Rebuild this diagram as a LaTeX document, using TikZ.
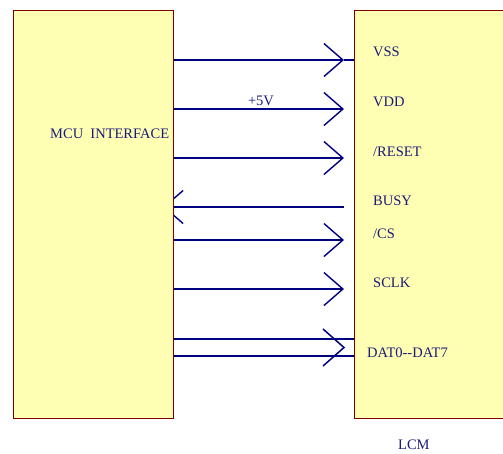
\documentclass[tikz,border=0pt]{standalone}
\usepackage{fontspec}
\setmainfont{Liberation Serif}
\usetikzlibrary{arrows.meta,backgrounds}
\definecolor{navy}{RGB}{0,0,128}
\definecolor{txtblue}{RGB}{26,26,122}
\definecolor{boxfill}{RGB}{255,255,180}
\definecolor{boxline}{RGB}{128,0,0}
\tikzset{
  chip/.style={draw=boxline, fill=boxfill, line width=1.2pt, rectangle, inner sep=0pt},
  lab/.style={text=txtblue, font=\fontsize{14.5}{17}\selectfont, inner sep=0pt, anchor=base west},
  wire/.style={draw=navy, line width=1.8pt},
  sig/.style={wire, -{Straight Barb[length=19pt,width=33pt,line width=1.4pt]}},
  chev/.style={draw=navy, line width=1.5pt}
}
\begin{document}
\begin{tikzpicture}[x=1pt,y=-1pt]
\useasboundingbox (0,0) rectangle (503,453);
% boxes
\node[chip, minimum width=160pt, minimum height=408pt, anchor=north west] (mcu) at (13,10) {};
\node[chip, minimum width=170pt, minimum height=408pt, anchor=north west] (lcm) at (354,10) {};
% labels
\node[lab] (mcut) at (50,138) {MCU\ \ INTERFACE};
\node[lab] (vss) at (373,56) {VSS};
\node[lab] (vdd) at (373,106) {VDD};
\node[lab] (rst) at (373,156) {/RESET};
\node[lab] (busy) at (373,205) {BUSY};
\node[lab] (cs) at (373,238) {/CS};
\node[lab] (sclk) at (373,287) {SCLK};
\node[lab] (dat) at (367,357) {DAT0-{}-DAT7};
\node[lab] (lcmt) at (398,449) {LCM};
\node[lab, anchor=base] (p5) at (261,105) {+5V};
% end points
\coordinate (t1) at (344,60);
\coordinate (t2) at (344,109);
\coordinate (t3) at (344,158);
\coordinate (t4) at (344,207);
\coordinate (t5) at (344,240);
\coordinate (t6) at (344,289);
\coordinate (b4) at (163,207);
\coordinate (dtip) at (344,347.5);
\begin{scope}[on background layer]
\draw[sig] (mcu.east |- t1) -- (t1);
\draw[wire] (t1) -- (lcm.west |- t1);
\draw[sig] (mcu.east |- t2) -- (t2);
\draw[sig] (mcu.east |- t3) -- (t3);
\draw[sig] (t4) -- (b4);
\draw[sig] (mcu.east |- t5) -- (t5);
\draw[sig] (mcu.east |- t6) -- (t6);
\draw[wire] (mcu.east |- 0,339) -- (lcm.west |- 0,339);
\draw[wire] (mcu.east |- 0,356) -- (lcm.west |- 0,356);
\draw[chev] ([shift={(-21,-18.5)}]dtip) -- (dtip) -- ([shift={(-21,18.5)}]dtip);
\end{scope}
\end{tikzpicture}
\end{document}
